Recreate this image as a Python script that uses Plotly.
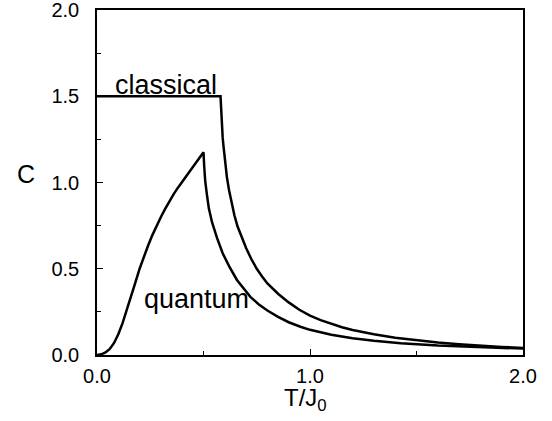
import plotly.graph_objects as go

# Classical specific heat
classical_T = [0.0, 0.58, 0.582, 0.586, 0.59, 0.594, 0.60, 0.61, 0.62, 0.63, 0.645, 0.66, 0.68,
               0.70, 0.725, 0.75, 0.775, 0.80, 0.85, 0.90, 0.95, 1.0, 1.05, 1.1, 1.15, 1.2,
               1.3, 1.4, 1.5, 1.6, 1.7, 1.8, 1.9, 2.0]
classical_C = [1.5, 1.5, 1.45, 1.33, 1.26, 1.21, 1.14, 1.03, 0.955, 0.89, 0.81, 0.745, 0.68,
               0.62, 0.555, 0.50, 0.455, 0.415, 0.355, 0.305, 0.262, 0.228, 0.202, 0.18, 0.161, 0.145,
               0.12, 0.10, 0.085, 0.073, 0.063, 0.054, 0.047, 0.041]

# Quantum specific heat
quantum_T = [0.0, 0.02, 0.04, 0.06, 0.08, 0.10, 0.12, 0.14, 0.16, 0.18, 0.20, 0.22, 0.24, 0.26,
             0.28, 0.30, 0.32, 0.34, 0.36, 0.38, 0.40, 0.42, 0.44, 0.46, 0.48, 0.50,
             0.503, 0.508, 0.516, 0.525, 0.54, 0.563, 0.59, 0.62, 0.657, 0.69, 0.72, 0.76,
             0.80, 0.85, 0.90, 0.955, 1.0, 1.1, 1.2, 1.3, 1.426, 1.6, 1.8, 2.0]
quantum_C = [0.0, 0.004, 0.015, 0.035, 0.07, 0.12, 0.185, 0.26, 0.34, 0.42, 0.50, 0.57, 0.635, 0.695,
             0.75, 0.80, 0.847, 0.892, 0.933, 0.97, 1.005, 1.04, 1.075, 1.107, 1.14, 1.175,
             1.10, 1.01, 0.93, 0.85, 0.77, 0.68, 0.59, 0.515, 0.435, 0.38, 0.337, 0.293,
             0.258, 0.221, 0.19, 0.164, 0.146, 0.117, 0.097, 0.082, 0.068, 0.055, 0.045, 0.037]

x_ticks = [0.0, 1.0, 2.0]
x_ticklabels = ["0.0", "1.0", "2.0"]
y_ticks = [0.0, 0.5, 1.0, 1.5, 2.0]
y_ticklabels = ["0.0", "0.5", "1.0", "1.5", "2.0"]

FONT = "Liberation Sans, Arial, Helvetica, sans-serif"

fig = go.Figure()
fig.add_trace(go.Scatter(x=classical_T, y=classical_C, mode="lines",
                         line=dict(color="black", width=2.5),
                         name="classical", showlegend=False))
fig.add_trace(go.Scatter(x=quantum_T, y=quantum_C, mode="lines",
                         line=dict(color="black", width=2.5),
                         name="quantum", showlegend=False))

axis_common = dict(
    range=[0, 2.0], automargin=False,
    ticks="inside", ticklen=6, tickwidth=1.2, tickcolor="black",
    showline=True, linecolor="black", linewidth=1.5, mirror=True,
    showgrid=False, zeroline=False, ticklabeloverflow="allow",
    tickfont=dict(family=FONT, size=20, color="black"),
)

fig.update_layout(
    template="none",
    width=552, height=421,
    margin=dict(l=97, r=29, t=10, b=66),
    paper_bgcolor="white", plot_bgcolor="white",
    font=dict(family=FONT, color="black", size=20),
    showlegend=False,
    xaxis=dict(axis_common, tickvals=x_ticks, ticktext=x_ticklabels, ticklabelstandoff=2,
               minor=dict(tickvals=[0.5, 1.5], ticks="inside", ticklen=4,
                          tickwidth=1, tickcolor="black", showgrid=False)),
    yaxis=dict(axis_common, tickvals=y_ticks, ticktext=y_ticklabels, ticklabelstandoff=12,
               minor=dict(tickvals=[0.25, 0.75, 1.25, 1.75], ticks="inside", ticklen=4,
                          tickwidth=1, tickcolor="black", showgrid=False)),
    annotations=[
        dict(text="classical", x=0.322, y=1.564, xref="x", yref="y",
             xanchor="center", yanchor="middle",
             showarrow=False, font=dict(family=FONT, size=27, color="black")),
        dict(text="quantum", x=0.466, y=0.327, xref="x", yref="y",
             xanchor="center", yanchor="middle",
             showarrow=False, font=dict(family=FONT, size=27, color="black")),
        dict(text="C", x=-0.167, y=0.524, xref="paper", yref="paper",
             xanchor="center", yanchor="middle",
             showarrow=False, font=dict(family=FONT, size=25, color="black")),
        dict(text="T/J<sub>0</sub>", x=0.49, y=-0.128, xref="paper", yref="paper",
             xanchor="center", yanchor="middle",
             showarrow=False, font=dict(family=FONT, size=24, color="black")),
    ],
)

fig.write_html("out.html",
               config={"displayModeBar": False},
               post_script="document.body.style.margin='0';document.body.style.padding='0';")
